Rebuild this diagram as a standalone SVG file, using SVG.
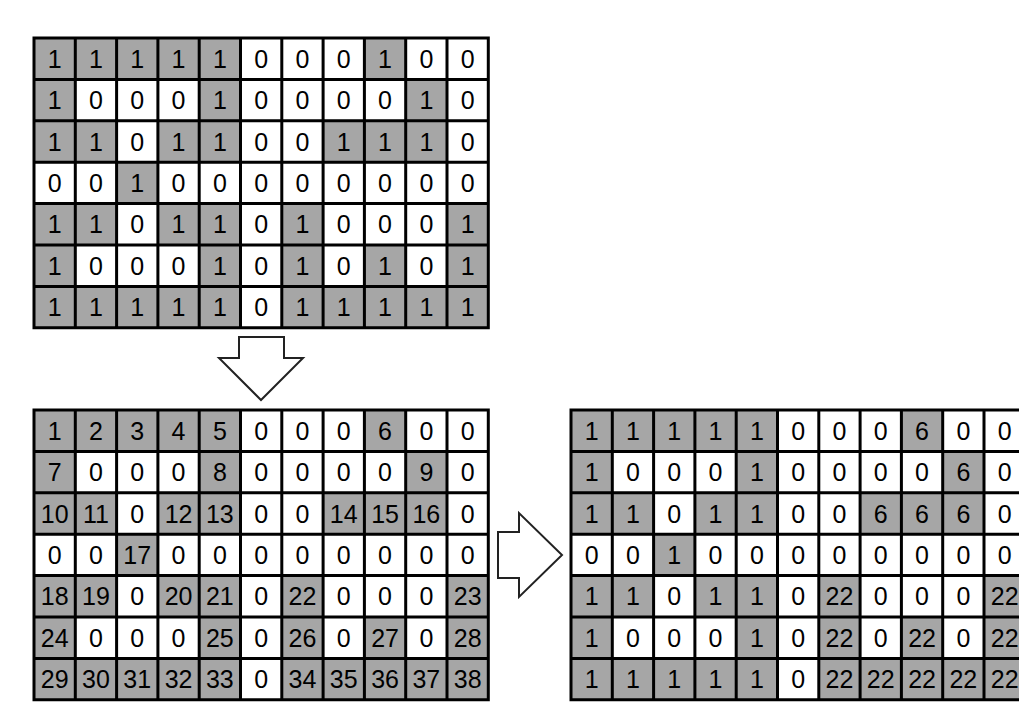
<svg xmlns="http://www.w3.org/2000/svg" width="1019" height="710" viewBox="0 0 1019 710">
<style>
.g{fill:#a6a6a6}
.ln{fill:none;stroke:#000;stroke-width:3}
text{font-family:"Liberation Sans",Arial,sans-serif;font-size:25px;text-anchor:middle;fill:#000}
.ar{fill:#fff;stroke:#222;stroke-width:2;stroke-linejoin:miter}
</style>
<defs>
<path id="gridlines" class="ln" d="M0,0H454.3V289.8H0Z M41.3,0V289.8M82.6,0V289.8M123.9,0V289.8M165.2,0V289.8M206.5,0V289.8M247.8,0V289.8M289.1,0V289.8M330.4,0V289.8M371.7,0V289.8M413,0V289.8 M0,41.4H454.3M0,82.8H454.3M0,124.2H454.3M0,165.6H454.3M0,207H454.3M0,248.4H454.3"/>
</defs>
<rect width="1019" height="710" fill="#fff"/>

<g id="grid-input" transform="translate(34,38)">
<g class="g">
<rect x="0" y="0" width="41.3" height="41.4"/><rect x="41.3" y="0" width="41.3" height="41.4"/><rect x="82.6" y="0" width="41.3" height="41.4"/><rect x="123.9" y="0" width="41.3" height="41.4"/><rect x="165.2" y="0" width="41.3" height="41.4"/><rect x="330.4" y="0" width="41.3" height="41.4"/>
<rect x="0" y="41.4" width="41.3" height="41.4"/><rect x="165.2" y="41.4" width="41.3" height="41.4"/><rect x="371.7" y="41.4" width="41.3" height="41.4"/>
<rect x="0" y="82.8" width="41.3" height="41.4"/><rect x="41.3" y="82.8" width="41.3" height="41.4"/><rect x="123.9" y="82.8" width="41.3" height="41.4"/><rect x="165.2" y="82.8" width="41.3" height="41.4"/><rect x="289.1" y="82.8" width="41.3" height="41.4"/><rect x="330.4" y="82.8" width="41.3" height="41.4"/><rect x="371.7" y="82.8" width="41.3" height="41.4"/>
<rect x="82.6" y="124.2" width="41.3" height="41.4"/>
<rect x="0" y="165.6" width="41.3" height="41.4"/><rect x="41.3" y="165.6" width="41.3" height="41.4"/><rect x="123.9" y="165.6" width="41.3" height="41.4"/><rect x="165.2" y="165.6" width="41.3" height="41.4"/><rect x="247.8" y="165.6" width="41.3" height="41.4"/><rect x="413" y="165.6" width="41.3" height="41.4"/>
<rect x="0" y="207" width="41.3" height="41.4"/><rect x="165.2" y="207" width="41.3" height="41.4"/><rect x="247.8" y="207" width="41.3" height="41.4"/><rect x="330.4" y="207" width="41.3" height="41.4"/><rect x="413" y="207" width="41.3" height="41.4"/>
<rect x="0" y="248.4" width="206.5" height="41.4"/><rect x="247.8" y="248.4" width="206.5" height="41.4"/>
</g>
<use href="#gridlines"/>
<g transform="translate(0,29.7)"><text x="20.65">1</text><text x="61.95">1</text><text x="103.25">1</text><text x="144.55">1</text><text x="185.85">1</text><text x="227.15">0</text><text x="268.45">0</text><text x="309.75">0</text><text x="351.05">1</text><text x="392.35">0</text><text x="433.65">0</text></g>
<g transform="translate(0,71.1)"><text x="20.65">1</text><text x="61.95">0</text><text x="103.25">0</text><text x="144.55">0</text><text x="185.85">1</text><text x="227.15">0</text><text x="268.45">0</text><text x="309.75">0</text><text x="351.05">0</text><text x="392.35">1</text><text x="433.65">0</text></g>
<g transform="translate(0,112.5)"><text x="20.65">1</text><text x="61.95">1</text><text x="103.25">0</text><text x="144.55">1</text><text x="185.85">1</text><text x="227.15">0</text><text x="268.45">0</text><text x="309.75">1</text><text x="351.05">1</text><text x="392.35">1</text><text x="433.65">0</text></g>
<g transform="translate(0,153.9)"><text x="20.65">0</text><text x="61.95">0</text><text x="103.25">1</text><text x="144.55">0</text><text x="185.85">0</text><text x="227.15">0</text><text x="268.45">0</text><text x="309.75">0</text><text x="351.05">0</text><text x="392.35">0</text><text x="433.65">0</text></g>
<g transform="translate(0,195.3)"><text x="20.65">1</text><text x="61.95">1</text><text x="103.25">0</text><text x="144.55">1</text><text x="185.85">1</text><text x="227.15">0</text><text x="268.45">1</text><text x="309.75">0</text><text x="351.05">0</text><text x="392.35">0</text><text x="433.65">1</text></g>
<g transform="translate(0,236.7)"><text x="20.65">1</text><text x="61.95">0</text><text x="103.25">0</text><text x="144.55">0</text><text x="185.85">1</text><text x="227.15">0</text><text x="268.45">1</text><text x="309.75">0</text><text x="351.05">1</text><text x="392.35">0</text><text x="433.65">1</text></g>
<g transform="translate(0,278.1)"><text x="20.65">1</text><text x="61.95">1</text><text x="103.25">1</text><text x="144.55">1</text><text x="185.85">1</text><text x="227.15">0</text><text x="268.45">1</text><text x="309.75">1</text><text x="351.05">1</text><text x="392.35">1</text><text x="433.65">1</text></g>
</g>

<g id="grid-labels" transform="translate(34,410)">
<g class="g">
<rect x="0" y="0" width="206.5" height="41.4"/><rect x="330.4" y="0" width="41.3" height="41.4"/>
<rect x="0" y="41.4" width="41.3" height="41.4"/><rect x="165.2" y="41.4" width="41.3" height="41.4"/><rect x="371.7" y="41.4" width="41.3" height="41.4"/>
<rect x="0" y="82.8" width="82.6" height="41.4"/><rect x="123.9" y="82.8" width="82.6" height="41.4"/><rect x="289.1" y="82.8" width="123.9" height="41.4"/>
<rect x="82.6" y="124.2" width="41.3" height="41.4"/>
<rect x="0" y="165.6" width="82.6" height="41.4"/><rect x="123.9" y="165.6" width="82.6" height="41.4"/><rect x="247.8" y="165.6" width="41.3" height="41.4"/><rect x="413" y="165.6" width="41.3" height="41.4"/>
<rect x="0" y="207" width="41.3" height="41.4"/><rect x="165.2" y="207" width="41.3" height="41.4"/><rect x="247.8" y="207" width="41.3" height="41.4"/><rect x="330.4" y="207" width="41.3" height="41.4"/><rect x="413" y="207" width="41.3" height="41.4"/>
<rect x="0" y="248.4" width="206.5" height="41.4"/><rect x="247.8" y="248.4" width="206.5" height="41.4"/>
</g>
<use href="#gridlines"/>
<g transform="translate(0,29.7)"><text x="20.65">1</text><text x="61.95">2</text><text x="103.25">3</text><text x="144.55">4</text><text x="185.85">5</text><text x="227.15">0</text><text x="268.45">0</text><text x="309.75">0</text><text x="351.05">6</text><text x="392.35">0</text><text x="433.65">0</text></g>
<g transform="translate(0,71.1)"><text x="20.65">7</text><text x="61.95">0</text><text x="103.25">0</text><text x="144.55">0</text><text x="185.85">8</text><text x="227.15">0</text><text x="268.45">0</text><text x="309.75">0</text><text x="351.05">0</text><text x="392.35">9</text><text x="433.65">0</text></g>
<g transform="translate(0,112.5)"><text x="20.65">10</text><text x="61.95">11</text><text x="103.25">0</text><text x="144.55">12</text><text x="185.85">13</text><text x="227.15">0</text><text x="268.45">0</text><text x="309.75">14</text><text x="351.05">15</text><text x="392.35">16</text><text x="433.65">0</text></g>
<g transform="translate(0,153.9)"><text x="20.65">0</text><text x="61.95">0</text><text x="103.25">17</text><text x="144.55">0</text><text x="185.85">0</text><text x="227.15">0</text><text x="268.45">0</text><text x="309.75">0</text><text x="351.05">0</text><text x="392.35">0</text><text x="433.65">0</text></g>
<g transform="translate(0,195.3)"><text x="20.65">18</text><text x="61.95">19</text><text x="103.25">0</text><text x="144.55">20</text><text x="185.85">21</text><text x="227.15">0</text><text x="268.45">22</text><text x="309.75">0</text><text x="351.05">0</text><text x="392.35">0</text><text x="433.65">23</text></g>
<g transform="translate(0,236.7)"><text x="20.65">24</text><text x="61.95">0</text><text x="103.25">0</text><text x="144.55">0</text><text x="185.85">25</text><text x="227.15">0</text><text x="268.45">26</text><text x="309.75">0</text><text x="351.05">27</text><text x="392.35">0</text><text x="433.65">28</text></g>
<g transform="translate(0,278.1)"><text x="20.65">29</text><text x="61.95">30</text><text x="103.25">31</text><text x="144.55">32</text><text x="185.85">33</text><text x="227.15">0</text><text x="268.45">34</text><text x="309.75">35</text><text x="351.05">36</text><text x="392.35">37</text><text x="433.65">38</text></g>
</g>

<g id="grid-merged" transform="translate(571,410)">
<g class="g">
<rect x="0" y="0" width="206.5" height="41.4"/><rect x="330.4" y="0" width="41.3" height="41.4"/>
<rect x="0" y="41.4" width="41.3" height="41.4"/><rect x="165.2" y="41.4" width="41.3" height="41.4"/><rect x="371.7" y="41.4" width="41.3" height="41.4"/>
<rect x="0" y="82.8" width="82.6" height="41.4"/><rect x="123.9" y="82.8" width="82.6" height="41.4"/><rect x="289.1" y="82.8" width="123.9" height="41.4"/>
<rect x="82.6" y="124.2" width="41.3" height="41.4"/>
<rect x="0" y="165.6" width="82.6" height="41.4"/><rect x="123.9" y="165.6" width="82.6" height="41.4"/><rect x="247.8" y="165.6" width="41.3" height="41.4"/><rect x="413" y="165.6" width="41.3" height="41.4"/>
<rect x="0" y="207" width="41.3" height="41.4"/><rect x="165.2" y="207" width="41.3" height="41.4"/><rect x="247.8" y="207" width="41.3" height="41.4"/><rect x="330.4" y="207" width="41.3" height="41.4"/><rect x="413" y="207" width="41.3" height="41.4"/>
<rect x="0" y="248.4" width="206.5" height="41.4"/><rect x="247.8" y="248.4" width="206.5" height="41.4"/>
</g>
<use href="#gridlines"/>
<g transform="translate(0,29.7)"><text x="20.65">1</text><text x="61.95">1</text><text x="103.25">1</text><text x="144.55">1</text><text x="185.85">1</text><text x="227.15">0</text><text x="268.45">0</text><text x="309.75">0</text><text x="351.05">6</text><text x="392.35">0</text><text x="433.65">0</text></g>
<g transform="translate(0,71.1)"><text x="20.65">1</text><text x="61.95">0</text><text x="103.25">0</text><text x="144.55">0</text><text x="185.85">1</text><text x="227.15">0</text><text x="268.45">0</text><text x="309.75">0</text><text x="351.05">0</text><text x="392.35">6</text><text x="433.65">0</text></g>
<g transform="translate(0,112.5)"><text x="20.65">1</text><text x="61.95">1</text><text x="103.25">0</text><text x="144.55">1</text><text x="185.85">1</text><text x="227.15">0</text><text x="268.45">0</text><text x="309.75">6</text><text x="351.05">6</text><text x="392.35">6</text><text x="433.65">0</text></g>
<g transform="translate(0,153.9)"><text x="20.65">0</text><text x="61.95">0</text><text x="103.25">1</text><text x="144.55">0</text><text x="185.85">0</text><text x="227.15">0</text><text x="268.45">0</text><text x="309.75">0</text><text x="351.05">0</text><text x="392.35">0</text><text x="433.65">0</text></g>
<g transform="translate(0,195.3)"><text x="20.65">1</text><text x="61.95">1</text><text x="103.25">0</text><text x="144.55">1</text><text x="185.85">1</text><text x="227.15">0</text><text x="268.45">22</text><text x="309.75">0</text><text x="351.05">0</text><text x="392.35">0</text><text x="433.65">22</text></g>
<g transform="translate(0,236.7)"><text x="20.65">1</text><text x="61.95">0</text><text x="103.25">0</text><text x="144.55">0</text><text x="185.85">1</text><text x="227.15">0</text><text x="268.45">22</text><text x="309.75">0</text><text x="351.05">22</text><text x="392.35">0</text><text x="433.65">22</text></g>
<g transform="translate(0,278.1)"><text x="20.65">1</text><text x="61.95">1</text><text x="103.25">1</text><text x="144.55">1</text><text x="185.85">1</text><text x="227.15">0</text><text x="268.45">22</text><text x="309.75">22</text><text x="351.05">22</text><text x="392.35">22</text><text x="433.65">22</text></g>
</g>

<g id="connectors">
<path class="ar" d="M239,337H284V358H303L261,400L219,358H239Z"/>
<path class="ar" d="M498,532H519V513L562,555L519,597V578H498Z"/>
</g>
</svg>
